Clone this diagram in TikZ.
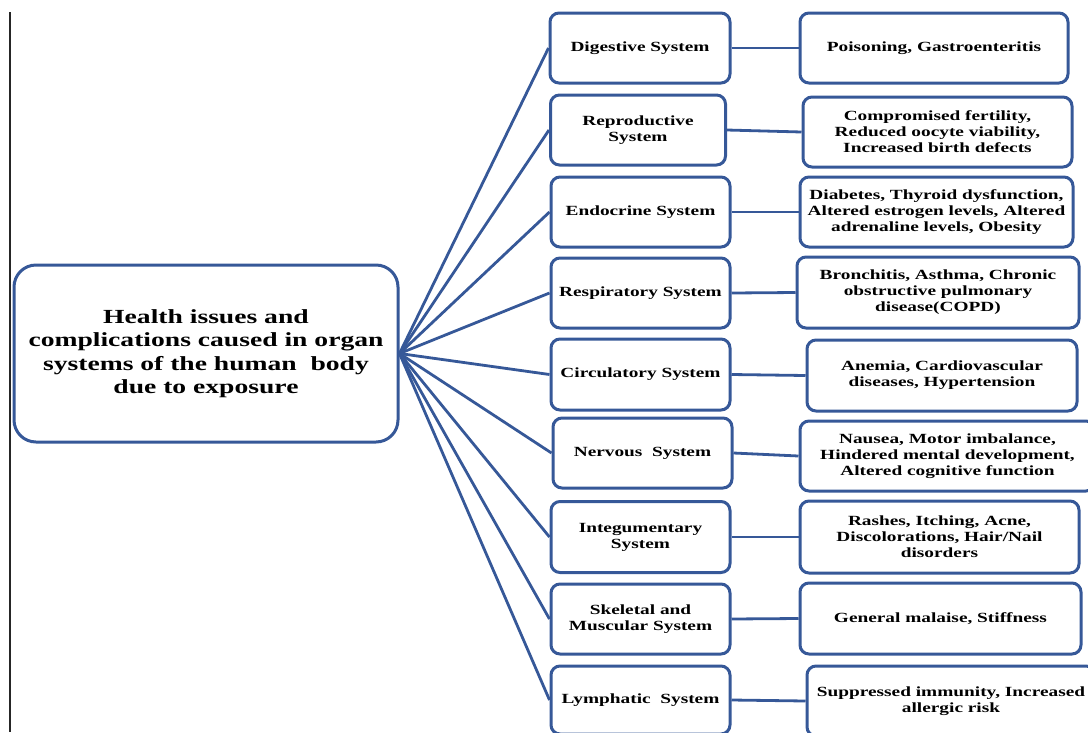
\documentclass[tikz,border=0pt]{standalone}
\usepackage{fontspec}
\setmainfont{Liberation Serif}[FakeStretch=1.38]
\definecolor{boxblue}{RGB}{54,88,152}
\begin{document}
\begin{tikzpicture}[x=1pt,y=-1pt,
  box/.style={draw=boxblue, line width=3pt, fill=white, rounded corners=9pt,
    align=center, inner sep=0pt, text=black,
    font=\fontsize{14}{16}\selectfont\bfseries},
  mainbox/.style={box, rounded corners=22pt, font=\fontsize{20}{23.5}\selectfont\bfseries},
  link/.style={draw=boxblue, line width=2.8pt}
]
\useasboundingbox (0,0) rectangle (1088,732);
\coordinate (lt) at (10,12);
\coordinate (lb) at (10,732);
\draw[line width=1.6pt, black!85] (lt) -- (lb);

\node[mainbox, minimum width=384, minimum height=177] (main) at (206,353.5)
  {Health issues and\\complications caused in organ\\systems of the human\ \ body\\due to exposure};

% middle column
\node[box, minimum width=180, minimum height=70] (m1) at (640,48) {Digestive System};
\node[box, minimum width=175, minimum height=70] (m2) at (638,130) {Reproductive\\System};
\node[box, minimum width=179, minimum height=70] (m3) at (640.5,212) {Endocrine System};
\node[box, minimum width=179, minimum height=70] (m4) at (640.5,293) {Respiratory System};
\node[box, minimum width=179, minimum height=71] (m5) at (640.5,374.5) {Circulatory System};
\node[box, minimum width=179, minimum height=70] (m6) at (642.5,453) {Nervous\ \ System};
\node[box, minimum width=179, minimum height=71] (m7) at (640.5,537) {Integumentary\\System};
\node[box, minimum width=179, minimum height=70] (m8) at (640.5,619) {Skeletal and\\Muscular System};
\node[box, minimum width=179, minimum height=68] (m9) at (640.5,700) {Lymphatic\ \ System};

% right column
\node[box, minimum width=268, minimum height=70] (r1) at (934,48) {Poisoning, Gastroenteritis};
\node[box, minimum width=269, minimum height=70] (r2) at (937.5,132) {Compromised fertility,\\Reduced oocyte viability,\\Increased birth defects};
\node[box, minimum width=273, minimum height=70] (r3) at (936.5,212) {Diabetes, Thyroid dysfunction,\\Altered estrogen levels, Altered\\adrenaline levels, Obesity};
\node[box, minimum width=282, minimum height=71] (r4) at (938,292.5) {Bronchitis, Asthma, Chronic\\obstructive pulmonary\\disease(COPD)};
\node[box, minimum width=270, minimum height=71] (r5) at (942,375.5) {Anemia, Cardiovascular\\diseases, Hypertension};
\node[box, minimum width=295, minimum height=70] (r6) at (947.5,456) {Nausea, Motor imbalance,\\Hindered mental development,\\Altered cognitive function};
\node[box, minimum width=279, minimum height=72] (r7) at (939.5,537) {Rashes, Itching, Acne,\\Discolorations, Hair/Nail\\disorders};
\node[box, minimum width=281, minimum height=71] (r8) at (940.5,618.5) {General malaise, Stiffness};
\node[box, minimum width=288, minimum height=70] (r9) at (951,701) {Suppressed immunity, Increased\\allergic risk};

% connectors
\foreach \i in {1,...,9} {
  \draw[link] (main.east) -- (m\i.west);
  \draw[link] (m\i.east) -- (r\i.west);
}
\end{tikzpicture}
\end{document}
